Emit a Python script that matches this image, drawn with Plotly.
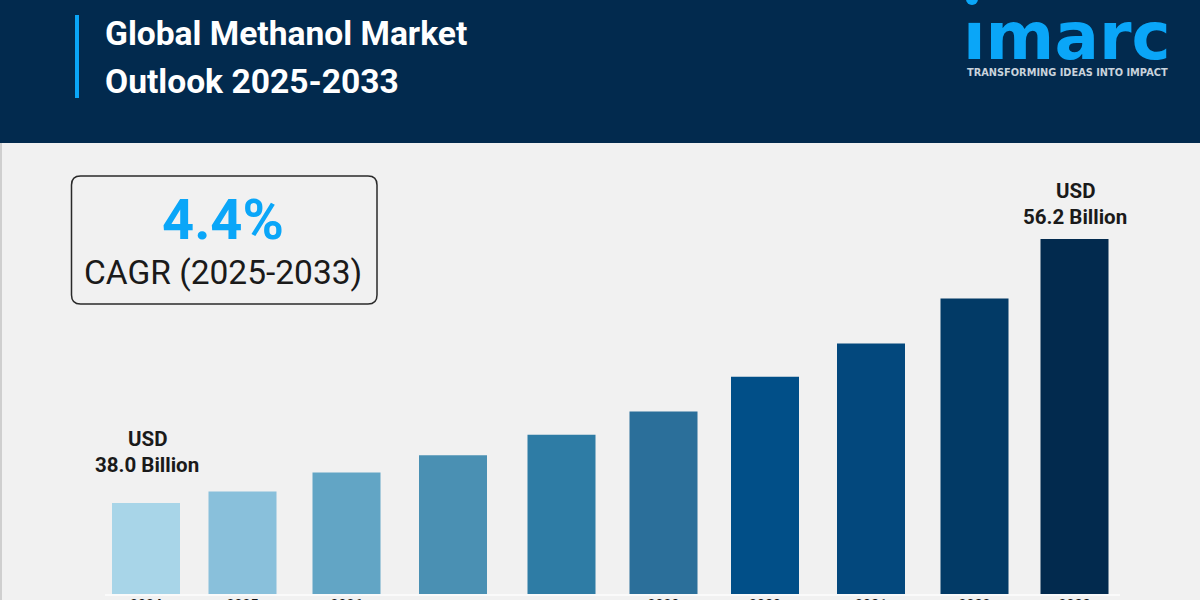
import plotly.graph_objects as go

years = ["2024", "2025", "2026", "2027", "2028", "2029", "2030", "2031", "2032", "2033"]
tick_labels = ["2024", "2025", "2026", "", "", "2029", "2030", "2031", "2032", "2033"]
values = [38.0, 38.8, 40.1, 41.3, 42.7, 44.3, 46.7, 49.0, 52.1, 56.2]
bar_centres = [146, 242.5, 346.5, 453, 561.5, 663.5, 765, 871, 974.5, 1074.5]
bar_colors = ["#A8D5E8", "#89C0DB", "#62A5C5", "#4A90B3", "#2E7CA5",
              "#2B6F9A", "#014F88", "#03487D", "#023A66", "#022A4E"]

NAVY = "#022A4E"
BLUE = "#0AA6F8"
BG = "#F1F1F1"
INK = "#1A1A1A"
W, H = 1200, 600
BASE_PX = 594
PX_PER_UNIT = (503 - 239) / (56.2 - 38.0)
y_low = 38.0 - (BASE_PX - 503) / PX_PER_UNIT
y_high = y_low + BASE_PX / PX_PER_UNIT

fig = go.Figure(go.Bar(
    x=bar_centres, y=values, width=68,
    marker=dict(color=bar_colors, line=dict(width=0)),
    customdata=years, hovertemplate="%{customdata}: USD %{y} Billion<extra></extra>",
))


def rect(x0, y0, x1, y1, color):
    return dict(type="rect", xref="paper", yref="paper", layer="below",
                x0=x0 / W, x1=x1 / W, y0=1 - y0 / H, y1=1 - y1 / H,
                fillcolor=color, line=dict(width=0))


def label(x, y, text, size, color=INK, bold=False, anchor="center", family="Roboto"):
    return dict(xref="paper", yref="paper", x=x / W, y=1 - y / H, text=f"<b>{text}</b>" if bold else text,
                showarrow=False, xanchor=anchor, yanchor="middle",
                font=dict(family=family, size=size, color=color))


def rounded(x0, y0, x1, y1, r):
    px = lambda v: v / W
    py = lambda v: 1 - v / H
    rx, ry = r / W, r / H
    return (f"M {px(x0)+rx} {py(y0)} L {px(x1)-rx} {py(y0)} Q {px(x1)} {py(y0)} {px(x1)} {py(y0)-ry} "
            f"L {px(x1)} {py(y1)+ry} Q {px(x1)} {py(y1)} {px(x1)-rx} {py(y1)} "
            f"L {px(x0)+rx} {py(y1)} Q {px(x0)} {py(y1)} {px(x0)} {py(y1)+ry} "
            f"L {px(x0)} {py(y0)-ry} Q {px(x0)} {py(y0)} {px(x0)+rx} {py(y0)} Z")


shapes = [
    rect(0, 0, 1200, 143, NAVY),
    rect(75, 15, 79, 98, BLUE),
    rect(0, 143, 2, 600, "#CFCFCF"),
    rect(105, 594, 1120, 596, "#FAFAFA"),
    dict(type="path", xref="paper", yref="paper", path=rounded(71.5, 176, 377, 304, 9),
         line=dict(color="#2A2A2A", width=1.5), fillcolor="rgba(0,0,0,0)"),
    dict(type="circle", xref="paper", yref="paper", fillcolor=BLUE, line=dict(width=0),
         x0=966 / W, x1=978 / W, y0=1 - 5 / H, y1=1 + 7 / H),
]

annotations = [
    label(103, 33, "Global Methanol Market", 33.6, "white", True, "left"),
    label(103, 81, "Outlook 2025-2033", 33.6, "white", True, "left"),
    label(961, 36, "ımarc", 66, BLUE, True, "left", "DejaVu Sans"),
    label(1067, 72, "TRANSFORMING IDEAS INTO IMPACT", 9.8, "#C9D3DC", True, "center", "DejaVu Sans"),
    label(223, 220, "4.4%", 56, BLUE, True),
    label(223, 272, "CAGR (2025-2033)", 33.5),
    label(147, 439, "USD", 20.5, INK, True),
    label(147, 465, f"{values[0]:.1f} Billion", 20.5, INK, True),
    label(1075, 191, "USD", 20.5, INK, True),
    label(1075, 217, f"{values[-1]:.1f} Billion", 20.5, INK, True),
]

fig.update_layout(
    width=W, height=H, margin=dict(l=0, r=0, t=0, b=0),
    paper_bgcolor=BG, plot_bgcolor="rgba(0,0,0,0)", showlegend=False,
    shapes=shapes, annotations=annotations,
    xaxis=dict(range=[0, W], tickvals=bar_centres, ticktext=tick_labels, showgrid=False, zeroline=False,
               showline=False, ticks="", ticklabelstandoff=1, tickangle=0, automargin=False,
               tickfont=dict(family="Roboto", size=14, color="#111111", weight="bold")),
    yaxis=dict(range=[y_low, y_high], domain=[1 - BASE_PX / H, 1], visible=False, fixedrange=True),
)
fig.write_html("out.html", config={"displayModeBar": False},
               post_script="document.body.style.margin='0';document.documentElement.style.overflow='hidden';")
